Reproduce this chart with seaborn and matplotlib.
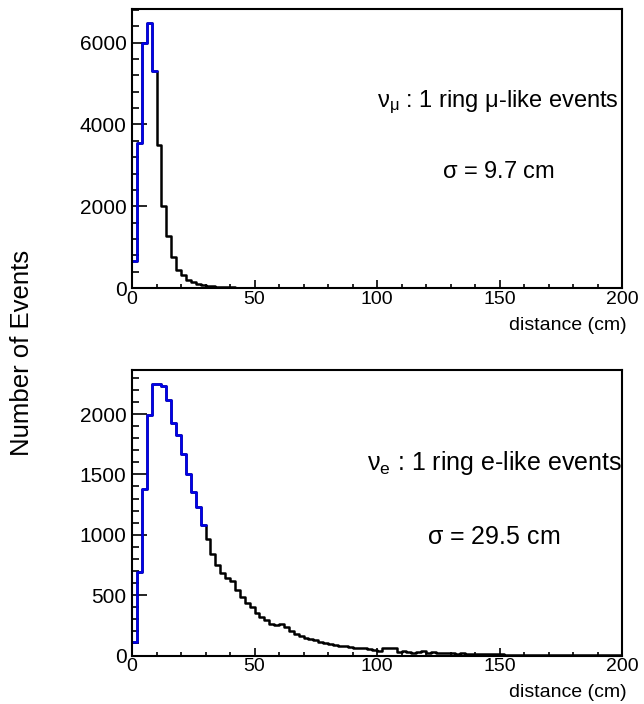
import numpy as np
import pandas as pd
import matplotlib
matplotlib.use('Agg')
import matplotlib.pyplot as plt
import seaborn as sns
from matplotlib.ticker import MultipleLocator

# 2 cm bins from 0 to 200 cm
bin_edges = list(range(0, 202, 2))
bin_centers = [e + 1 for e in bin_edges[:-1]]

# nu_mu : 1 ring mu-like (counts per 2 cm bin)
mu_counts = [660, 3540, 6000, 6480, 5300, 3490, 2000, 1260, 760, 430,
             320, 200, 150, 100, 70, 55, 40, 30, 22, 18,
             14, 11, 9, 7, 6, 5, 4, 4, 3, 3,
             2, 2, 2, 1, 1, 1, 1, 0, 1, 0] + [0] * 60

# nu_e : 1 ring e-like
e_counts = [115, 695, 1380, 1990, 2250, 2250, 2235, 2120, 1925, 1830,
            1668, 1502, 1353, 1234, 1082, 966, 839, 750, 681, 640,
            620, 543, 483, 433, 405, 350, 318, 290, 265, 255,
            258, 240, 200, 178, 160, 148, 140, 128, 115, 102,
            92, 86, 80, 75, 72, 66, 60, 58, 50, 47,
            38, 65, 60, 58, 28, 38, 26, 24, 25, 40,
            22, 30, 24, 22, 20, 18, 16, 20, 14, 15,
            12, 13, 10, 11, 9, 9, 8, 7, 8, 6,
            7, 5, 6, 5, 4, 5, 4, 3, 4, 3,
            3, 2, 3, 2, 2, 2, 1, 2, 1, 1]

mu_blue_bins = 5    # 0-10 cm drawn in blue
e_blue_bins = 15    # 0-30 cm drawn in blue

sns.set_style("ticks")
plt.rcParams['font.family'] = ['Liberation Sans', 'DejaVu Sans']
plt.rcParams['mathtext.fontset'] = 'custom'
plt.rcParams['mathtext.rm'] = 'Liberation Sans'
plt.rcParams['mathtext.it'] = 'Liberation Sans'
plt.rcParams['mathtext.default'] = 'regular'
plt.rcParams['text.color'] = 'black'
plt.rcParams['axes.labelcolor'] = 'black'
plt.rcParams['xtick.color'] = 'black'
plt.rcParams['ytick.color'] = 'black'

fig = plt.figure(figsize=(6.44, 7.04), dpi=100)
ax_mu = fig.add_axes([132 / 644, 1 - 288 / 704, 490 / 644, 279 / 704])
ax_e = fig.add_axes([132 / 644, 1 - 655.5 / 704, 490 / 644, 285.5 / 704])

panels = [
    (ax_mu, mu_counts, mu_blue_bins, 6825, 2000, 400),
    (ax_e, e_counts, e_blue_bins, 2365, 500, 100),
]

for ax, counts, nblue, ymax, ymaj, ymin in panels:
    df = pd.DataFrame({'distance': bin_centers, 'count': counts})
    sns.histplot(data=df, x='distance', weights='count', bins=bin_edges,
                 element='step', fill=False, color='black', linewidth=1.8, ax=ax)
    sns.histplot(data=df.iloc[:nblue], x='distance', weights='count',
                 bins=bin_edges[:nblue + 1], element='step',
                 fill=False, color='#0000ee', linewidth=1.8, ax=ax)
    ax.set_xlim(0, 200)
    ax.set_ylim(0, ymax)
    ax.set_ylabel('')
    ax.set_xlabel('distance (cm)', loc='right', fontsize=14)
    ax.xaxis.set_major_locator(MultipleLocator(50))
    ax.xaxis.set_minor_locator(MultipleLocator(10))
    ax.yaxis.set_major_locator(MultipleLocator(ymaj))
    ax.yaxis.set_minor_locator(MultipleLocator(ymin))
    ax.tick_params(axis='both', which='both', direction='in', color='black',
                   labelcolor='black', width=1.2)
    ax.tick_params(axis='y', which='major', length=11, labelsize=15, pad=4)
    ax.tick_params(axis='y', which='minor', length=5)
    ax.tick_params(axis='x', which='major', length=6, labelsize=14, pad=2)
    ax.tick_params(axis='x', which='minor', length=3)
    for s in ax.spines.values():
        s.set_visible(True)
        s.set_linewidth(1.5)
        s.set_color('black')

ax_mu.xaxis.set_label_coords(1.01, -0.105)
ax_e.xaxis.set_label_coords(1.01, -0.10)

fig.text(498 / 644, 1 - 102 / 704, r'$\nu_{\mu}$ : 1 ring $\mu$-like events',
         ha='center', va='center', fontsize=17)
fig.text(498 / 644, 1 - 172 / 704, r'$\sigma$ = 9.7 cm',
         ha='center', va='center', fontsize=17)
fig.text(494 / 644, 1 - 463 / 704, r'$\nu_{e}$ : 1 ring e-like events',
         ha='center', va='center', fontsize=18)
fig.text(494 / 644, 1 - 537 / 704, r'$\sigma$ = 29.5 cm',
         ha='center', va='center', fontsize=18)

fig.text(22 / 644, 1 - 353 / 704, 'Number of Events', rotation=90,
         ha='center', va='center', fontsize=18.5)

fig.savefig('out.png', dpi=100)
